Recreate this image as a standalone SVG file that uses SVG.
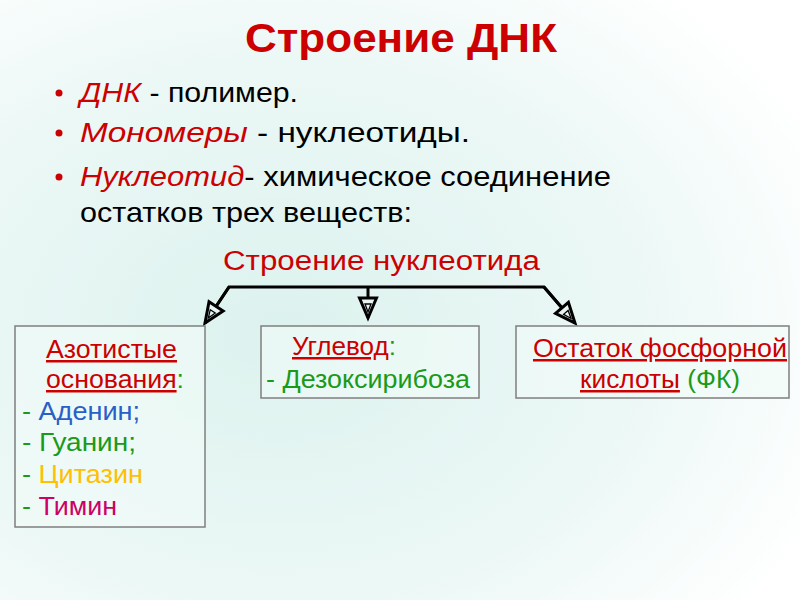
<svg xmlns="http://www.w3.org/2000/svg" width="800" height="600" viewBox="0 0 800 600">
<defs>
<radialGradient id="bg" cx="0.35" cy="0.55" r="0.75">
<stop offset="0" stop-color="#dcf2ee"/>
<stop offset="0.6" stop-color="#ecf8f6"/>
<stop offset="1" stop-color="#ffffff"/>
</radialGradient>
<marker id="ah" markerWidth="30" markerHeight="30" viewBox="-25 -15 30 30" refX="0" refY="0" orient="auto" markerUnits="userSpaceOnUse">
<path d="M-20,-8.5 L0,0 L-20,8.5 Z" fill="#e8f4f2" stroke="#000" stroke-width="3" stroke-linejoin="miter"/>
<path d="M-14,-3 L-6,0 L-14,3 Z" fill="none" stroke="#000" stroke-width="1.3"/>
</marker>
</defs>
<style>
text{font-family:"Liberation Sans",Arial,sans-serif;}
.red{fill:#cc0000;}
.grn{fill:#1a9a1a;}
.blk{fill:#000;}
.box{fill:#f2fbf9;fill-opacity:0.6;stroke:#7f7f7f;stroke-width:1.5;}
.bul{font-size:28px;}
.bx{font-size:25px;}
.ul{text-decoration:underline;}
.conn{fill:none;stroke:#000;stroke-width:3;stroke-linejoin:miter;}
</style>
<rect x="0" y="0" width="800" height="600" fill="url(#bg)"/>

<g id="title">
<text x="245" y="52" font-size="40" font-weight="bold" class="red" textLength="312" lengthAdjust="spacingAndGlyphs">Строение ДНК</text>
</g>

<g id="bullets" class="bul">
<circle cx="59" cy="93" r="3.5" fill="#cc0000"/>
<text x="80" y="102" textLength="218" lengthAdjust="spacingAndGlyphs"><tspan class="red" font-style="italic">ДНК</tspan><tspan class="blk"> - полимер.</tspan></text>
<circle cx="59" cy="133" r="3.5" fill="#cc0000"/>
<text x="80" y="142" textLength="390" lengthAdjust="spacingAndGlyphs"><tspan class="red" font-style="italic">Мономеры</tspan><tspan class="blk"> - нуклеотиды.</tspan></text>
<circle cx="59" cy="177" r="3.5" fill="#cc0000"/>
<text x="80" y="186" textLength="531" lengthAdjust="spacingAndGlyphs"><tspan class="red" font-style="italic">Нуклеотид</tspan><tspan class="blk">- химическое соединение</tspan></text>
<text x="80" y="222" class="blk" textLength="332" lengthAdjust="spacingAndGlyphs">остатков трех веществ:</text>
</g>

<g id="subtitle">
<text x="223" y="270" font-size="27" class="red" textLength="317" lengthAdjust="spacingAndGlyphs">Строение нуклеотида</text>
</g>

<g id="connectors">
<path class="conn" d="M205,323 L229,287 L544,287 L575,323"/>
<path class="conn" d="M229,287 L205,323" marker-end="url(#ah)"/>
<path class="conn" d="M368,287 L368,318" marker-end="url(#ah)"/>
<path class="conn" d="M544,287 L575,323" marker-end="url(#ah)"/>
</g>

<g id="box-bases">
<rect class="box" x="15" y="326" width="190" height="201"/>
<text x="46" y="358" class="bx red ul" textLength="131" lengthAdjust="spacingAndGlyphs">Азотистые</text>
<text x="46" y="388" class="bx" textLength="138" lengthAdjust="spacingAndGlyphs"><tspan class="red ul">основания</tspan><tspan class="grn">:</tspan></text>
<text x="22" y="420" class="bx" textLength="118" lengthAdjust="spacingAndGlyphs"><tspan class="grn">- </tspan><tspan fill="#2a5fc8">Аденин;</tspan></text>
<text x="22" y="451" class="bx grn" textLength="114" lengthAdjust="spacingAndGlyphs">- Гуанин;</text>
<text x="22" y="483" class="bx" textLength="121" lengthAdjust="spacingAndGlyphs"><tspan class="grn">- </tspan><tspan fill="#ffc000">Цитазин</tspan></text>
<text x="22" y="515" class="bx" textLength="95" lengthAdjust="spacingAndGlyphs"><tspan class="grn">- </tspan><tspan fill="#cc0066">Тимин</tspan></text>
</g>

<g id="box-sugar">
<rect class="box" x="261" y="326" width="218" height="72"/>
<text x="292" y="355" class="bx" textLength="104" lengthAdjust="spacingAndGlyphs"><tspan class="red ul">Углевод</tspan><tspan class="grn">:</tspan></text>
<text x="266" y="388" class="bx grn" textLength="204" lengthAdjust="spacingAndGlyphs">- Дезоксирибоза</text>
</g>

<g id="box-acid">
<rect class="box" x="516" y="326" width="273" height="72"/>
<text x="533" y="357" class="bx red ul" textLength="254" lengthAdjust="spacingAndGlyphs">Остаток фосфорной</text>
<text x="580" y="388" class="bx" textLength="160" lengthAdjust="spacingAndGlyphs"><tspan class="red ul">кислоты</tspan><tspan class="grn"> (ФК)</tspan></text>
</g>
</svg>
